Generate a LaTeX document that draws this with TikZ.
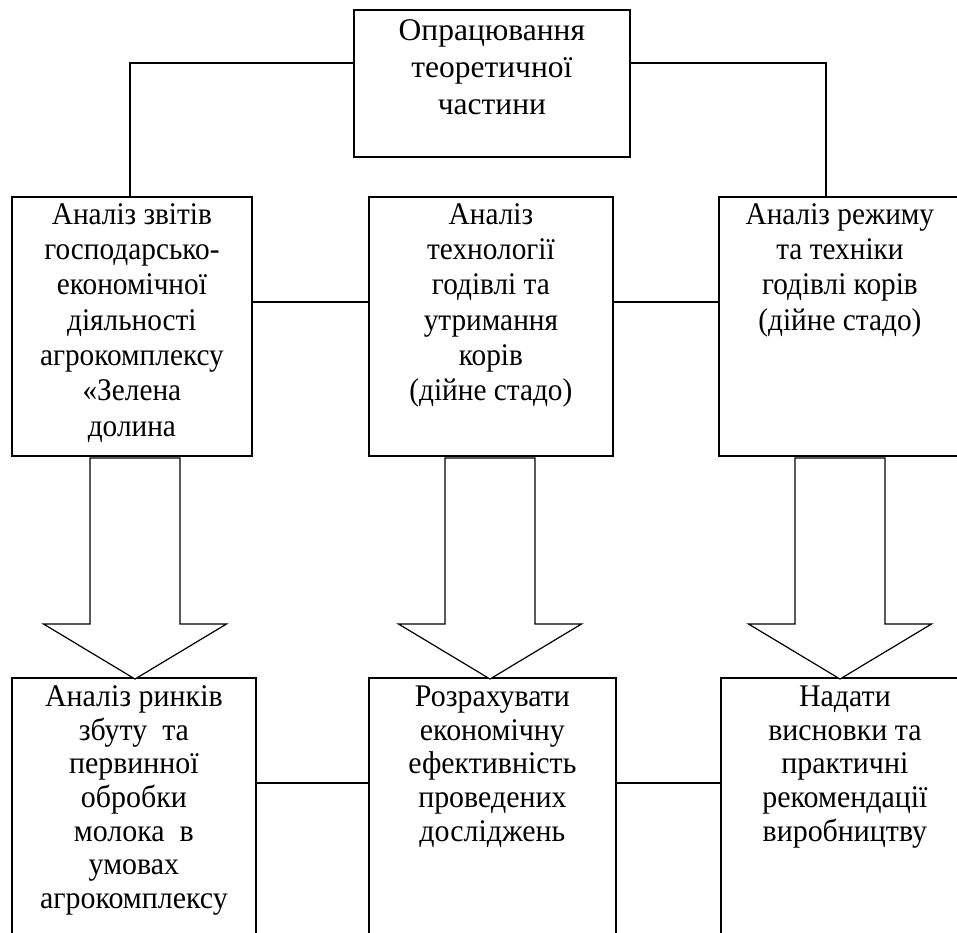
\documentclass[tikz,border=0pt]{standalone}
\usepackage{fontspec}
\setmainfont{Liberation Serif}
\newfontfamily\midfont[FakeStretch=0.93]{Liberation Serif}
\newfontfamily\botfont[FakeStretch=0.95]{Liberation Serif}
\newcommand\firststrut{\rule{0pt}{0.8em}}
\newcommand\blockarr[1]{\draw[barrow] (#1) ++(-45,0) -- ++(90,0) -- ++(0,166) -- ++(46.5,0) -- ++(-91.5,55) -- ++(-91.5,-55) -- ++(46.5,0) -- cycle;}
\begin{document}
\begin{tikzpicture}[x=1pt,y=-1pt,
  box/.style={draw, line width=1.8pt, inner sep=0pt, anchor=north west},
  conn/.style={line width=1.6pt},
  barrow/.style={draw, fill=white, line width=1.2pt, line join=miter},
  ttop/.style={inner sep=0pt, anchor=north, align=center, font={\fontsize{31.5pt}{37pt}\selectfont}},
  tmid/.style={inner sep=0pt, anchor=north, align=center, font={\midfont\fontsize{31.5pt}{35.3pt}\selectfont}},
  tbot/.style={inner sep=0pt, anchor=north, align=center, font={\botfont\fontsize{31.5pt}{33.6pt}\selectfont}}]
\useasboundingbox (0,0) rectangle (957,932);
\fill[white] (0,0) rectangle (957,932);
\clip (0,0) rectangle (957,932);

% top box
\node[box, minimum width=276pt, minimum height=147pt] (T) at (353,9) {};
\node[ttop] (Tt) at ([yshift=-5.8pt]T.north) {\firststrut Опрацювання\\теоретичної\\частини};

% second row
\node[box, minimum width=240pt, minimum height=259pt] (L) at (11,196) {};
\node[box, minimum width=244pt, minimum height=259pt] (M) at (368,196) {};
\node[box, minimum width=242pt, minimum height=259pt] (R) at (718,196) {};
\node[tmid] (Lt) at ([yshift=-2.8pt]L.north) {\firststrut Аналіз звітів\\господарсько-\\економічної\\діяльності\\агрокомплексу\\«Зелена\\долина};
\node[tmid] (Mt) at ([yshift=-2.8pt]M.north) {\firststrut Аналіз\\технології\\годівлі та\\утримання\\корів\\(дійне стадо)};
\node[tmid] (Rt) at ([yshift=-2.8pt]R.north) {\firststrut Аналіз режиму\\та техніки\\годівлі корів\\(дійне стадо)};

% bottom row
\node[box, minimum width=244pt, minimum height=400pt] (BL) at (11,677) {};
\node[box, minimum width=247pt, minimum height=400pt] (BM) at (368,677) {};
\node[box, minimum width=248pt, minimum height=400pt] (BR) at (720,677) {};
\node[tbot] (BLt) at ([yshift=-4.3pt]BL.north) {\firststrut Аналіз ринків\\збуту \ та\\первинної\\обробки\\молока \ в\\умовах\\агрокомплексу};
\node[tbot] (BMt) at ([yshift=-4.3pt]BM.north) {\firststrut Розрахувати\\економічну\\ефективність\\проведених\\досліджень};
\node[tbot] (BRt) at ([yshift=-4.3pt]BR.north) {\firststrut Надати\\висновки та\\практичні\\рекомендації\\виробництву};

% connectors
\draw[conn] ([yshift=20.5pt]T.west) -| ([xshift=-2pt]L.north);
\draw[conn] ([yshift=20.5pt]T.east) -| ([xshift=-14pt]R.north);
\draw[conn] ([yshift=-106pt]L.north east) -- ([yshift=-106pt]M.north west);
\draw[conn] ([yshift=-106pt]M.north east) -- ([yshift=-106pt]R.north west);
\draw[conn] ([yshift=-106pt]BL.north east) -- ([yshift=-106pt]BM.north west);
\draw[conn] ([yshift=-106pt]BM.north east) -- ([yshift=-106pt]BR.north west);

% block arrows
\coordinate (a1) at (135,458);
\coordinate (a2) at (490,458);
\coordinate (a3) at (840,458);
\blockarr{a1}
\blockarr{a2}
\blockarr{a3}
\end{tikzpicture}
\end{document}
